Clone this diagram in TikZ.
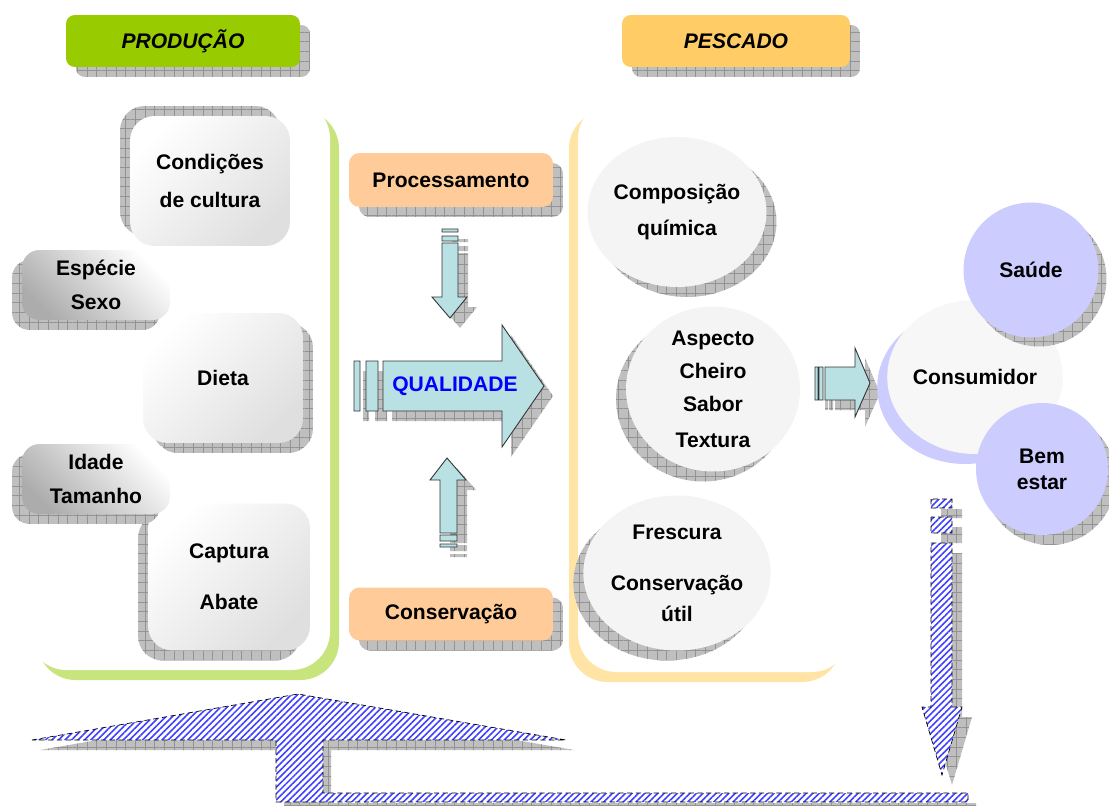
\documentclass[tikz,border=0pt]{standalone}
\usepackage{fontspec}
\setmainfont{Liberation Sans}
\usetikzlibrary{shapes.geometric, shadows, patterns.meta}
\definecolor{verde}{RGB}{153,204,0}
\definecolor{verdeclaro}{RGB}{200,228,125}
\definecolor{laranja}{RGB}{255,204,102}
\definecolor{laranjaclaro}{RGB}{255,228,165}
\definecolor{salmao}{RGB}{255,204,153}
\definecolor{ciano}{RGB}{185,224,226}
\definecolor{lilas}{RGB}{204,204,255}
\tikzset{every node/.style={font=\fontsize{12}{14}\selectfont\bfseries, align=center, inner sep=0pt},
         sh/.style 2 args={drop shadow={shadow xshift=#1, shadow yshift=#2, fill=gray!50, opacity=1,
                           postaction={pattern={Hatch[distance=5.5pt, line width=0.35pt]}, pattern color=gray!85}}},
         titulo/.style={rounded corners=5pt, minimum width=4.68cm, minimum height=1.04cm,
                        font=\fontsize{12}{14}\selectfont\bfseries\itshape},
         caixa/.style={rounded corners=14pt, top color=white, bottom color=gray!25, shading angle=45},
         etiqueta/.style={rounded corners=10pt, minimum width=2.96cm, minimum height=1.4cm,
                          top color=white, bottom color=gray!65, shading angle=-45},
         balao/.style={ellipse, fill=gray!9, minimum width=3.48cm},
         seta/.style={fill=ciano, draw=black!80, line width=0.5pt},
         retorno/.style={preaction={fill=white}, pattern={Lines[angle=45, distance=2.6pt, line width=0.9pt]},
                         pattern color=blue!75, draw=black, densely dashed, line width=0.4pt}}

\begin{document}
\begin{tikzpicture}[x=0.02cm, y=-0.02cm]
        \useasboundingbox (0,0) rectangle (1109,805);
        % molduras
        \fill[verdeclaro, rounded corners=22pt] (37,110) rectangle (339,680);
        \fill[white, rounded corners=22pt] (28,100) rectangle (330,670);
        \fill[laranjaclaro, rounded corners=22pt] (569,110) rectangle (841,682);
        \fill[white, rounded corners=22pt] (578,100) rectangle (850,672);
        % titulos
        \node[titulo, fill=verde, sh={0.2cm}{-0.2cm}](producao)at(183,41){PRODUÇÃO};
        \node[titulo, fill=laranja, minimum width=4.56cm, sh={0.2cm}{-0.2cm}](pescado)at(736,41){PESCADO};
        % producao
        \node[caixa, minimum width=3.2cm, minimum height=2.6cm, sh={-0.2cm}{0.2cm}](cultura)at(210,181){Condições\\[8pt]de cultura};
        \node[caixa, minimum width=3.2cm, minimum height=2.6cm, sh={0.2cm}{-0.2cm}](dieta)at(223,378){Dieta};
        \node[caixa, minimum width=3.24cm, minimum height=2.94cm, sh={-0.2cm}{-0.2cm}](captura)at(229,577){Captura\\[15pt]Abate};
        \node[etiqueta, sh={-0.2cm}{-0.2cm}](especie)at(96,285){Espécie\\[5pt]Sexo};
        \node[etiqueta, sh={-0.2cm}{-0.2cm}](idade)at(96,479){Idade\\[5pt]Tamanho};
        % processamento e conservacao
        \node[rounded corners=6pt, fill=salmao, minimum width=4.08cm, minimum height=1.08cm, sh={0.2cm}{-0.2cm}](proc)at(451,180){Processamento};
        \node[rounded corners=6pt, fill=salmao, minimum width=4.08cm, minimum height=1.06cm, sh={0.2cm}{-0.2cm}](cons)at(451,614){Conservação};
        % setas
        \draw[seta, sh={0.2cm}{-0.2cm}] (442,229) rectangle (458,232) (442,236) rectangle (458,241)
            (442,243) -- (458,243) -- (458,297) -- (467,297) -- (450,318) -- (432,297) -- (442,297) -- cycle;
        \draw[seta, sh={0.2cm}{-0.2cm}] (447,458) -- (466,480) -- (457,480) -- (457,533) -- (440,533) -- (440,480) -- (430,480) -- cycle
            (440,535) rectangle (457,541) (440,544) rectangle (457,547);
        \draw[seta, sh={0.18cm}{-0.2cm}] (354,361) rectangle (360,411) (366,361) rectangle (378,411)
            (383,361) -- (502,361) -- (502,325) -- (544,386) -- (502,447) -- (502,411) -- (383,411) -- cycle;
        \node[text=blue](qualidade)at(455,386){QUALIDADE};
        \draw[seta, sh={0.2cm}{-0.2cm}] (815,367) rectangle (818,400) (819,367) rectangle (823,400)
            (825,367) -- (855,367) -- (855,348) -- (870,383) -- (855,417) -- (855,400) -- (825,400) -- cycle;
        % pescado
        \node[balao, minimum height=3.0cm, sh={0.2cm}{-0.2cm}](quimica)at(677,212){Composição\\[7pt]química};
        \node[balao, minimum height=3.3cm, sh={-0.2cm}{-0.2cm}](sensorial)at(713,389){Aspecto\\[5pt]Cheiro\\[5pt]Sabor\\[6pt]Textura};
        \node[balao, minimum height=3.1cm, sh={-0.2cm}{-0.2cm}](frescura)at(677,573){Frescura\\[15pt]Conservação\\[3.5pt]útil};
        % consumidor
        \node[ellipse, fill=gray!6, minimum width=3.2cm, minimum height=3.08cm,
              drop shadow={shadow xshift=-0.2cm, shadow yshift=-0.2cm, fill=lilas, opacity=1}](consumidor)at(975,377){Consumidor};
        \node[circle, fill=lilas, minimum size=2.7cm, sh={0.16cm}{-0.18cm}](saude)at(1031,270){Saúde};
        \node[circle, fill=lilas, minimum size=2.64cm, sh={0.16cm}{-0.2cm}](bemestar)at(1042,469){Bem\\[0.7pt]estar};
        % retorno
        \draw[sh={0.2cm}{-0.2cm}, retorno] (931,499) rectangle (952,508) (931,517) rectangle (952,533)
            (931,543) -- (952,543) -- (952,707) -- (962,707) -- (942,775) -- (922,707) -- (931,707) -- cycle;
        \draw[sh={0.16cm}{-0.2cm}, retorno] (32,740) -- (298,694) -- (566,740) -- (323,740) -- (323,793)
            -- (968,793) -- (968,802) -- (276,802) -- (276,740) -- cycle;
    \end{tikzpicture}
\end{document}
